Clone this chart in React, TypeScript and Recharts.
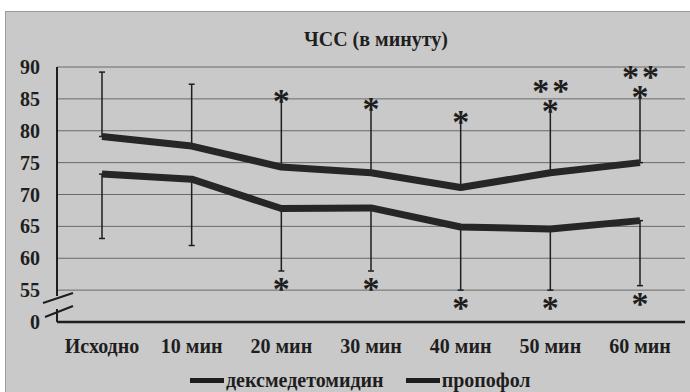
import { LineChart, Line, XAxis, YAxis, CartesianGrid, ErrorBar, LabelList } from "recharts";

const labels = ["Исходно", "10 мин", "20 мин", "30 мин", "40 мин", "50 мин", "60 мин"];

// upper curve, bars go up
const propofolMean = [79.1, 77.6, 74.3, 73.4, 71.1, 73.4, 75.0];
const propofolSd = [10.1, 9.7, 11.0, 10.6, 10.9, 10.3, 10.9];
const propofolMark = ["", "", "*", "*", "*", "*", "*"];
const propofolMark2 = ["", "", "", "", "", "**", "**"];

// lower curve, bars go down
const dexMean = [73.2, 72.4, 67.8, 67.9, 64.9, 64.6, 65.9];
const dexSd = [10.1, 10.4, 9.8, 9.9, 9.9, 9.6, 10.2];
const dexMark = ["", "", "*", "*", "*", "*", "*"];

const yTicks = [50, 55, 60, 65, 70, 75, 80, 85, 90];

const data = labels.map((label, i) => ({
  label,
  prop: propofolMean[i],
  propErr: [0, propofolSd[i]],
  propTop: propofolMean[i] + propofolSd[i],
  dex: dexMean[i],
  dexErr: [dexSd[i], 0],
  dexBot: dexMean[i] - dexSd[i],
}));

const BG = "#c9c9c9";
const INK = "#1e1e1e";
const SERIF = '"Liberation Serif", "DejaVu Serif", serif';
const TICK_MARGIN = 17;
const STAR = 34;

function YTick(props: any) {
  const { x, y, payload } = props;
  const v = payload.value;
  const ax = x + TICK_MARGIN;
  return (
    <g>
      <text x={x} y={y} dy="0.355em" textAnchor="end" fontFamily={SERIF} fontWeight="bold" fontSize={20} fill={INK}>
        {v === 50 ? "0" : v}
      </text>
      {v === 50 && (
        <g>
          <rect x={ax - 3} y={y - 26} width={6} height={13} fill={BG} />
          <line x1={ax - 14} y1={y - 19} x2={ax + 16} y2={y - 29} stroke={INK} strokeWidth={2} />
          <line x1={ax - 12} y1={y - 5} x2={ax + 16} y2={y - 16} stroke={INK} strokeWidth={2} />
        </g>
      )}
    </g>
  );
}

function starsAbove(props: any) {
  const { x, y, index } = props;
  const m = propofolMark[index];
  const m2 = propofolMark2[index];
  return (
    <g fontFamily={SERIF} fontWeight="bold" fontSize={STAR} fill={INK} textAnchor="middle">
      {m && <text x={x} y={y + 15}>{m}</text>}
      {m2 && (
        <text x={x + 2} y={y - 5} letterSpacing={3}>
          {m2}
        </text>
      )}
    </g>
  );
}

function starsBelow(props: any) {
  const { x, y, index } = props;
  const m = dexMark[index];
  if (!m) return null;
  return (
    <text x={x} y={y + 29} fontFamily={SERIF} fontWeight="bold" fontSize={STAR} fill={INK} textAnchor="middle">
      {m}
    </text>
  );
}

export default function App() {
  return (
    <div style={{ position: "absolute", left: 0, top: 0, width: 690, height: 392, background: "#fff", overflow: "hidden" }}>
      <div
        style={{
          position: "absolute",
          left: 5,
          top: 11,
          width: 690,
          height: 390,
          background: BG,
          borderLeft: "1px solid #9a9a9a",
          borderTop: "1px solid #9a9a9a",
        }}
      />
      <div
        style={{
          position: "absolute",
          left: 0,
          top: 28,
          width: 752,
          textAlign: "center",
          fontFamily: SERIF,
          fontWeight: "bold",
          fontSize: 20,
          color: INK,
        }}
      >
        ЧСС (в минуту)
      </div>
      <div style={{ position: "absolute", left: 0, top: 0 }}>
        <LineChart width={690} height={392} data={data} margin={{ top: 67, right: 5, bottom: 40, left: 0 }}>
          <CartesianGrid horizontal vertical={false} stroke="#6a6a6a" strokeWidth={1} />
          <XAxis
            dataKey="label"
            axisLine={{ stroke: INK, strokeWidth: 2.5 }}
            tickLine={false}
            tickSize={0}
            tickMargin={17}
            height={30}
            padding={{ left: 45, right: 45 }}
            tick={{ fontFamily: SERIF, fontWeight: "bold", fontSize: 20, fill: INK }}
          />
          <YAxis
            type="number"
            domain={[50, 90]}
            ticks={yTicks}
            allowDataOverflow
            width={57}
            axisLine={{ stroke: INK, strokeWidth: 2 }}
            tickLine={false}
            tickSize={0}
            tickMargin={TICK_MARGIN}
            tick={<YTick />}
          />
          <Line dataKey="propTop" stroke="none" dot={false} activeDot={false} isAnimationActive={false}>
            <LabelList dataKey="propTop" content={starsAbove} />
          </Line>
          <Line dataKey="dexBot" stroke="none" dot={false} activeDot={false} isAnimationActive={false}>
            <LabelList dataKey="dexBot" content={starsBelow} />
          </Line>
          <Line
            dataKey="prop"
            name="пропофол"
            type="linear"
            stroke="#262626"
            strokeWidth={7}
            strokeLinejoin="round"
            dot={false}
            activeDot={false}
            isAnimationActive={false}
          >
            <ErrorBar dataKey="propErr" width={3} stroke={INK} strokeWidth={1.5} direction="y" />
          </Line>
          <Line
            dataKey="dex"
            name="дексмедетомидин"
            type="linear"
            stroke="#262626"
            strokeWidth={7}
            strokeLinejoin="round"
            dot={false}
            activeDot={false}
            isAnimationActive={false}
          >
            <ErrorBar dataKey="dexErr" width={3} stroke={INK} strokeWidth={1.5} direction="y" />
          </Line>
        </LineChart>
      </div>
      <div
        style={{
          position: "absolute",
          left: 190,
          top: 369,
          display: "flex",
          alignItems: "center",
          fontFamily: SERIF,
          fontWeight: "bold",
          fontSize: 20,
          color: INK,
          whiteSpace: "nowrap",
        }}
      >
        <span style={{ display: "inline-block", width: 34, height: 5, background: INK }} />
        <span style={{ marginLeft: 2 }}>дексмедетомидин</span>
        <span style={{ display: "inline-block", width: 34, height: 5, background: INK, marginLeft: 22 }} />
        <span style={{ marginLeft: 2 }}>пропофол</span>
      </div>
    </div>
  );
}
